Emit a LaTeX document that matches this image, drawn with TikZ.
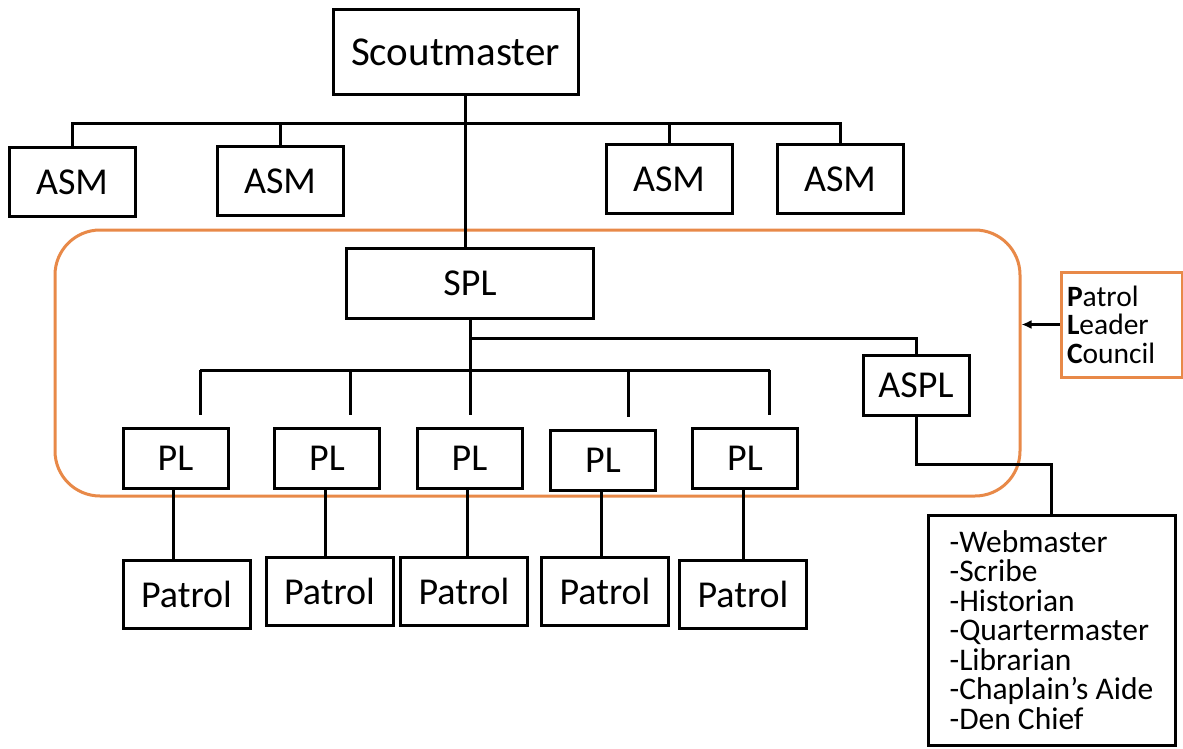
\documentclass[tikz,border=0pt]{standalone}
\usepackage{fontspec}
\setmainfont{Carlito}
\usetikzlibrary{positioning,arrows.meta}
\definecolor{plcorange}{RGB}{232,137,72}
\tikzset{
>={Latex[length=10pt,width=9pt]},
every node/.style={font=\fontsize{38}{42}\selectfont},
block/.style={draw, rectangle, line width=3pt, inner sep=0pt},
}

\begin{document}
\begin{tikzpicture}
    [x=1pt, y=-1pt, line width=3pt,
    asm/.style={block, minimum width=126, minimum height=68},
    pl/.style={block, minimum width=105, minimum height=60},
    patrol/.style={block, minimum width=127, minimum height=68},
    listbox/.style={block, align=left, minimum width=247,
        minimum height=230, font=\fontsize{31.5}{29.5}\selectfont},
    council/.style={draw=plcorange, line width=3pt, rounded corners=45,
        minimum width=965, minimum height=266, inner sep=0pt}
    ]
    \useasboundingbox (0,0) rectangle (1183,749);

    % patrol leader council frame
    \node [council] (plcframe) at (537.5,363) {};

    \node [block, minimum width=245, minimum height=85,
        font=\fontsize{41}{45}\selectfont] (sm) at (455.5,52.5) {Scoutmaster};

    \node [asm] (asm1) at (72,182) {ASM};
    \node [asm] (asm2) at (280,181) {ASM};
    \node [asm] (asm3) at (669,179) {ASM};
    \node [asm] (asm4) at (840,179) {ASM};

    \node [block, minimum width=247, minimum height=70] (spl) at (470,283) {SPL};
    \node [block, minimum width=106, minimum height=60] (aspl) at (916,385) {ASPL};

    \node [pl] (pl1) at (175.5,458) {PL};
    \node [pl] (pl2) at (327,458) {PL};
    \node [pl] (pl3) at (469.5,458) {PL};
    \node [pl] (pl4) at (603,460) {PL};
    \node [pl] (pl5) at (745,458) {PL};

    \node [patrol] (pat1) at (186.5,594) {Patrol};
    \node [patrol] (pat2) at (329.5,591) {Patrol};
    \node [patrol] (pat3) at (464,591) {Patrol};
    \node [patrol] (pat4) at (605,591) {Patrol};
    \node [patrol] (pat5) at (743,594) {Patrol};

    \node [listbox] (duties) at (1051.5,630)
    {
        -Webmaster\\
        -Scribe\\
        -Historian\\
        -Quartermaster\\
        -Librarian\\
        -Chaplain’s Aide\\
        -Den Chief
    };

    \node [draw=plcorange, line width=3pt, align=left, text width=109,
        inner xsep=6, minimum height=105,
        font=\fontsize{29.5}{28.5}\selectfont] (plc) at (1121.5,324.5)
    {
        \textbf{P}atrol\\
        \textbf{L}eader\\
        \textbf{C}ouncil
    };

    \coordinate (topbus) at (0,124);
    \coordinate (aspbus) at (0,338);
    \coordinate (plbus) at (0,370);
    \coordinate (elbow) at (0,464);

    % scoutmaster and ASMs
    \draw ([xshift=10]sm.south) -- ([xshift=10]sm.south |- spl.north);
    \draw (asm1.north) |- (asm4.north |- topbus) -- (asm4.north);
    \draw (asm2.north) -- (asm2.north |- topbus);
    \draw (asm3.north) -- (asm3.north |- topbus);

    % SPL to PLs and ASPL
    \draw (spl.south) -- (spl.south |- plbus);
    \draw (spl.south |- aspbus) -| (aspl.north);
    \draw ([xshift=24.5]pl1.north |- plbus) -- ([xshift=24.5]pl5.north |- plbus);
    \foreach \i/\dx in {1/24.5,2/23,3/0.5,4/25,5/24.5}
        \draw ([xshift=\dx, yshift=12]pl\i.north) -- ([xshift=\dx]pl\i.north |- plbus);

    % PLs to patrols
    \foreach \i in {1,...,5}
        \draw ([xshift=-2]pl\i.south) -- ([xshift=-2]pl\i.south |- pat\i.north);

    % ASPL to the list
    \draw (aspl.south) |- (duties.north |- elbow) -- (duties.north);

    \draw [->, line width=2.5pt] (plc.west) -- (plc.west -| plcframe.east);

\end{tikzpicture}
\end{document}
